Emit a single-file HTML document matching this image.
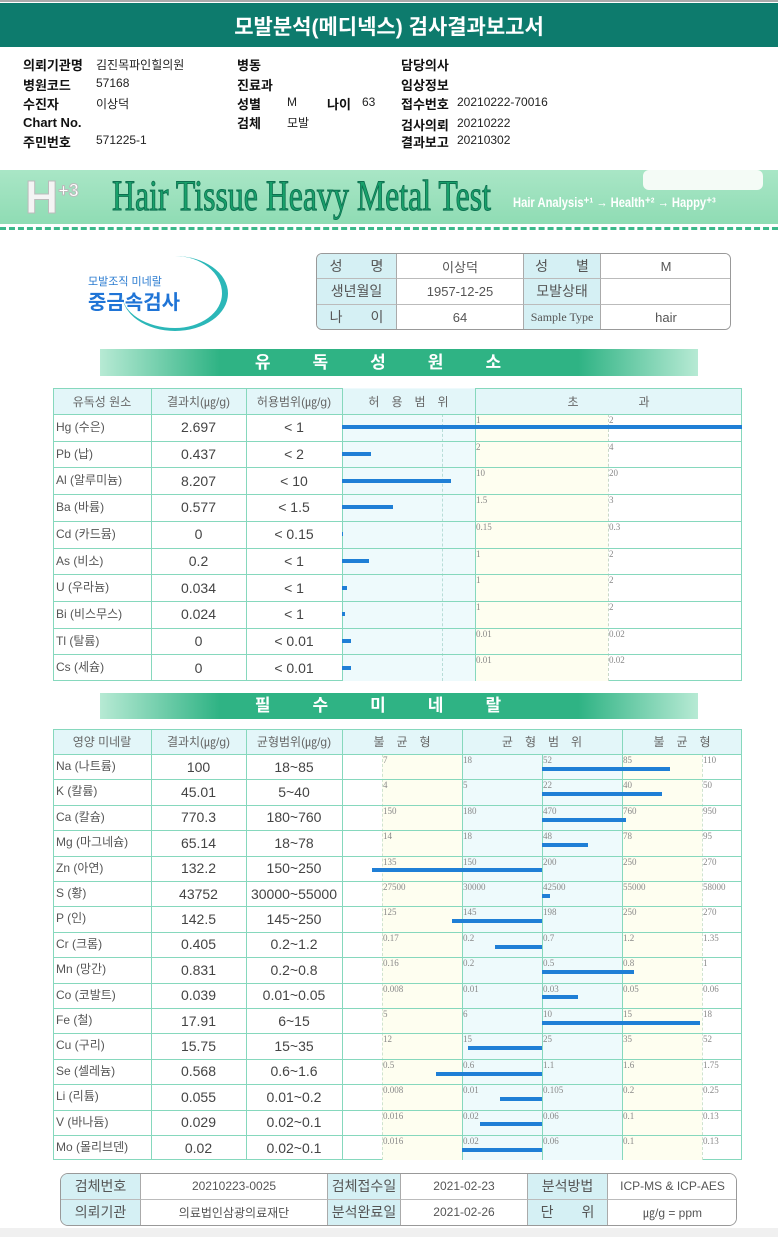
<!DOCTYPE html>
<html><head><meta charset="utf-8">
<style>
body{margin:0;width:778px;height:1237px;position:relative;background:#fff;font-family:"Liberation Sans","Noto Sans CJK KR",sans-serif;overflow:hidden}
.a{position:absolute}
.lbl{font-weight:bold;font-size:13px;color:#111}
.val{font-size:12px;color:#222}
.cell{position:absolute;box-sizing:border-box;display:flex;align-items:center;justify-content:center;color:#444;font-size:14px}
.tk{position:absolute;font-family:"Liberation Serif",serif;font-size:9px;color:#888}
</style></head><body>
<div class="a" style="left:0;top:0;width:778px;height:2px;background:#aaa"></div>
<div class="a" style="left:0;top:3px;width:778px;height:44px;background:#0d7b6d;color:#fff;font-size:21px;font-weight:bold;text-align:center;line-height:50px">모발분석(메디넥스) 검사결과보고서</div>

<div id="info"></div>

<div class="a" style="left:0;top:170px;width:778px;height:54px;background:linear-gradient(#a9e6c6,#8fdcb4)">
 <div class="a" style="left:25px;top:0;font-family:'Liberation Sans',sans-serif;font-size:46px;font-weight:bold;color:#f4f4f4;-webkit-text-stroke:1px #bbb">H<sup style="font-size:18px;color:#fff">+3</sup></div>
 <div class="a" style="left:112px;top:2px;font-family:'Liberation Serif',serif;font-size:43px;color:#18a06a;transform:scaleX(0.74);transform-origin:left;white-space:nowrap;-webkit-text-stroke:1px #0d7050">Hair Tissue Heavy Metal Test</div>
 <div class="a" style="left:513px;top:24px;font-size:14px;font-weight:bold;color:#fff;transform:scaleX(0.8);transform-origin:left;white-space:nowrap">Hair Analysis⁺¹ → Health⁺² → Happy⁺³</div>
 <div class="a" style="left:643px;top:0;width:120px;height:20px;background:#f4fbf6;border-radius:6px"></div>
</div>
<div class="a" style="left:0;top:227px;width:778px;border-top:3px dashed #3cb88a"></div>

<div class="a" style="left:60px;top:248px;width:180px;height:85px">
 <div class="a" style="left:62px;top:8px;width:100px;height:72px;border-radius:50%;border-right:6px solid #2bb7b8;border-bottom:3px solid #2bb7b8"></div>
 <div class="a" style="left:28px;top:25px;font-size:11px;color:#2a7bd0">모발조직 미네랄</div>
 <div class="a" style="left:28px;top:38px;font-size:20px;font-weight:bold;color:#1f74d6">중금속검사</div>
</div>

<div class="a" style="left:316px;top:253px;width:415px;height:77px;border:1px solid #999;border-radius:6px;overflow:hidden;box-sizing:border-box">
 <div id="pt"></div>
</div>

<div class="a" style="left:100px;top:349px;width:598px;height:27px;background:linear-gradient(90deg,#b7ead4,#2fb384 20%,#2fb384 80%,#b7ead4);color:#fff;font-size:17px;font-weight:bold;text-align:center;line-height:27px;letter-spacing:42px">유독성원소</div>
<div class="a" style="left:100px;top:693px;width:598px;height:26px;background:linear-gradient(90deg,#b7ead4,#2fb384 20%,#2fb384 80%,#b7ead4);color:#fff;font-size:17px;font-weight:bold;text-align:center;line-height:26px;letter-spacing:42px">필수미네랄</div>

<div id="tox"></div>
<div id="min"></div>

<div class="a" style="left:60px;top:1173px;width:677px;height:53px;border:1px solid #999;border-radius:8px;overflow:hidden;box-sizing:border-box"><div id="ft"></div></div>
<div class="a" style="left:0;top:1228px;width:778px;height:9px;background:#f0f0f0"></div>

<script>
// ---- toxic data ----
const toxNames=["Hg (수은)","Pb (납)","Al (알루미늄)","Ba (바륨)","Cd (카드뮴)","As (비소)","U (우라늄)","Bi (비스무스)","Tl (탈륨)","Cs (세슘)"];
const toxValues=[2.697,0.437,8.207,0.577,0,0.2,0.034,0.024,0,0];
const toxLimits=[1,2,10,1.5,0.15,1,1,1,0.01,0.01];
const toxRangeLabels=["< 1","< 2","< 10","< 1.5","< 0.15","< 1","< 1","< 1","< 0.01","< 0.01"];
const toxTick1=["1","2","10","1.5","0.15","1","1","1","0.01","0.01"];
const toxTick2=["2","4","20","3","0.3","2","2","2","0.02","0.02"];
// ---- mineral data ----
const minNames=["Na (나트륨)","K (칼륨)","Ca (칼슘)","Mg (마그네슘)","Zn (아연)","S (황)","P (인)","Cr (크롬)","Mn (망간)","Co (코발트)","Fe (철)","Cu (구리)","Se (셀레늄)","Li (리튬)","V (바나듐)","Mo (몰리브덴)"];
const minValues=[100,45.01,770.3,65.14,132.2,43752,142.5,0.405,0.831,0.039,17.91,15.75,0.568,0.055,0.029,0.02];
const minRangeLabels=["18~85","5~40","180~760","18~78","150~250","30000~55000","145~250","0.2~1.2","0.2~0.8","0.01~0.05","6~15","15~35","0.6~1.6","0.01~0.2","0.02~0.1","0.02~0.1"];
const minTicks=[[7,18,52,85,110],[4,5,22,40,50],[150,180,470,760,950],[14,18,48,78,95],[135,150,200,250,270],[27500,30000,42500,55000,58000],[125,145,198,250,270],[0.17,0.2,0.7,1.2,1.35],[0.16,0.2,0.5,0.8,1],[0.008,0.01,0.03,0.05,0.06],[5,6,10,15,18],[12,15,25,35,52],[0.5,0.6,1.1,1.6,1.75],[0.008,0.01,0.105,0.2,0.25],[0.016,0.02,0.06,0.1,0.13],[0.016,0.02,0.06,0.1,0.13]];

function mk(parent,css,txt,cls){const d=document.createElement('div');d.className=cls||'a';d.style.cssText=css;if(txt!==undefined)d.textContent=txt;parent.appendChild(d);return d;}
const B='#86d8bd';

// info section
const info=document.getElementById('info');
const infoItems=[["의뢰기관명","김진목파인힐의원",23,63,73],["병원코드","57168",23,83,73],["수진자","이상덕",23,102,73],["Chart No.","",23,123,73],["주민번호","571225-1",23,140,73],
["병동","",237,63,50],["진료과","",237,83,50],["성별","M",237,102,50],["검체","모발",237,121,50],["나이","63",327,102,35],
["담당의사","",401,63,56],["임상정보","",401,83,56],["접수번호","20210222-70016",401,102,56],["검사의뢰","20210222",401,123,56],["결과보고","20210302",401,140,56]];
infoItems.forEach(it=>{
 const l=mk(info,`left:${it[2]}px;top:${it[3]-8}px`,it[0],'a lbl');
 
 
 if(it[1]){
  const v=mk(info,`left:${it[2]+it[4]}px;top:${it[3]-7}px`,it[1],'a val');
  
  }
});

// patient table
const pt=document.getElementById('pt');
const ptCols=[[0,80,true],[80,127,false],[207,77,true],[284,131,false]];
const ptData=[["성　　명","이상덕","성　　별","M"],["생년월일","1957-12-25","모발상태",""],["나　　이","64","Sample Type","hair"]];
ptData.forEach((r,i)=>r.forEach((t,j)=>{
 const c=ptCols[j];
 const e=mk(pt,`left:${c[0]}px;top:${i*25.3}px;width:${c[1]}px;height:25.3px;border-right:1px solid #aaa;border-bottom:${i<2?1:0}px solid #bbb;background:${c[2]?'#d5f0f4':'#fff'};font-size:${c[2]?(t==='Sample Type'?12:14):13}px;font-family:${t==='Sample Type'?'Liberation Serif,serif':'inherit'};color:#555`,t,'cell');
 
 
}));

// toxic table
const tox=document.getElementById('tox');
const TX0=53,TX1=742,TH=388,THH=26,TRH=26.7;
const tCols=[53,151,246,342,475,742];
const tHead=["유독성 원소","결과치(㎍/g)","허용범위(㎍/g)","허　용　범　위","초　　　　　과"];
mk(tox,`left:${TX0}px;top:${TH}px;width:${TX1-TX0}px;height:${THH+TRH*10}px;border:1px solid ${B};box-sizing:border-box`);
mk(tox,`left:342px;top:${TH}px;width:133px;height:${THH+TRH*10}px;background:#eefafc`);
mk(tox,`left:475px;top:${TH+THH}px;width:133px;height:${TRH*10}px;background:#fefef0`);
mk(tox,`left:${TX0+1}px;top:${TH+1}px;width:${TX1-TX0-2}px;height:${THH-1}px;background:#e3f6f9`);
tHead.forEach((h,j)=>{const e=mk(tox,`left:${tCols[j]}px;top:${TH}px;width:${tCols[j+1]-tCols[j]}px;height:${THH}px;font-size:12px;color:#666`,h,'cell');
 
 });
tCols.slice(1,5).forEach(x=>mk(tox,`left:${x}px;top:${TH}px;width:1px;height:${THH+TRH*10}px;background:${B}`));
mk(tox,`left:442px;top:${TH+THH}px;height:${TRH*10}px;border-left:1px dashed #b8ddd8`);
mk(tox,`left:608px;top:${TH+THH}px;height:${TRH*10}px;border-left:1px dashed #c8d8c8`);
function toxX(v,lim){const r=v/lim; if(r>2) return 742; return 342+r*133;}
toxNames.forEach((n,i)=>{
 const y=TH+THH+i*TRH;
 mk(tox,`left:53px;top:${y}px;width:689px;height:1px;background:${B}`);
 const a=mk(tox,`left:56px;top:${y}px;height:${TRH}px;line-height:${TRH}px;font-size:12px;color:#555`,n);
 
 
 const b=mk(tox,`left:151px;top:${y}px;width:95px;height:${TRH}px`,String(toxValues[i]),'cell');
 
 
 const c=mk(tox,`left:246px;top:${y}px;width:96px;height:${TRH}px`,toxRangeLabels[i],'cell');
 
 
 const t1=mk(tox,`left:476px;top:${y+1}px`,toxTick1[i],'tk');
 
 
 const t2=mk(tox,`left:609px;top:${y+1}px`,toxTick2[i],'tk');
 
 
 const w=Math.max(toxValues[i]===0&&toxLimits[i]<0.1?9:1,toxX(toxValues[i],toxLimits[i])-342);
 const bar=mk(tox,`left:342px;top:${y+TRH/2-2}px;width:${w}px;height:4px;background:#1f7fd6`);
 
 
});

// mineral table
const mn=document.getElementById('min');
const MH=729,MHH=25,MRH=25.4,N=minNames.length;
const mCols=[53,151,246,342,462,622,742];
const tickX=[382,462,542,622,702];
const mHead=["영양 미네랄","결과치(㎍/g)","균형범위(㎍/g)","불　균　형","균　형　범　위","불　균　형"];
mk(mn,`left:53px;top:${MH}px;width:689px;height:${MHH+MRH*N}px;border:1px solid ${B};box-sizing:border-box`);
mk(mn,`left:382px;top:${MH+MHH}px;width:80px;height:${MRH*N}px;background:#fefef0`);
mk(mn,`left:462px;top:${MH+MHH}px;width:160px;height:${MRH*N}px;background:#eefafc`);
mk(mn,`left:622px;top:${MH+MHH}px;width:80px;height:${MRH*N}px;background:#fefef0`);
mk(mn,`left:54px;top:${MH+1}px;width:687px;height:${MHH-1}px;background:#e3f6f9`);
mHead.forEach((h,j)=>{const e=mk(mn,`left:${mCols[j]}px;top:${MH}px;width:${mCols[j+1]-mCols[j]}px;height:${MHH}px;font-size:12px;color:#666`,h,'cell');
 
 });
[151,246,342,462,622].forEach(x=>mk(mn,`left:${x}px;top:${MH}px;width:1px;height:${MHH+MRH*N}px;background:${B}`));
mk(mn,`left:542px;top:${MH+MHH}px;width:1px;height:${MRH*N}px;background:${B}`);
[382,702].forEach(x=>mk(mn,`left:${x}px;top:${MH+MHH}px;height:${MRH*N}px;border-left:1px dashed #cfe3cf`));
function minX(v,t){
 if(v<=t[0]) return Math.max(372,382-(t[0]-v)/(t[1]-t[0])*80);
 for(let k=0;k<4;k++){if(v<=t[k+1]) return tickX[k]+(v-t[k])/(t[k+1]-t[k])*80;}
 return Math.min(742,702+(v-t[4])/(t[4]-t[3])*80);
}
minNames.forEach((n,i)=>{
 const y=MH+MHH+i*MRH;
 mk(mn,`left:53px;top:${y}px;width:689px;height:1px;background:${B}`);
 const a=mk(mn,`left:56px;top:${y}px;height:${MRH}px;line-height:${MRH}px;font-size:12px;color:#555`,n);
 
 
 const b=mk(mn,`left:151px;top:${y}px;width:95px;height:${MRH}px`,String(minValues[i]),'cell');
 
 
 const c=mk(mn,`left:246px;top:${y}px;width:96px;height:${MRH}px`,minRangeLabels[i],'cell');
 
 
 minTicks[i].forEach((t,k)=>{const e=mk(mn,`left:${tickX[k]+1}px;top:${y+1}px`,String(t),'tk');
  
  });
 const x=minX(minValues[i],minTicks[i]);
 const l=Math.min(x,542),w=Math.max(2,Math.abs(x-542));
 const bar=mk(mn,`left:${l}px;top:${y+MRH/2}px;width:${w}px;height:4px;background:#1f7fd6`);
 
 
});

// footer
const ft=document.getElementById('ft');
const fCols=[[0,80,true],[80,187,false],[267,73,true],[340,127,false],[467,80,true],[547,130,false]];
const fData=[["검체번호","20210223-0025","검체접수일","2021-02-23","분석방법","ICP-MS & ICP-AES"],["의뢰기관","의료법인삼광의료재단","분석완료일","2021-02-26","단　　위","㎍/g = ppm"]];
fData.forEach((r,i)=>r.forEach((t,j)=>{const c=fCols[j];
 const e=mk(ft,`left:${c[0]}px;top:${i*25.5}px;width:${c[1]}px;height:25.5px;border-right:1px solid #aaa;border-bottom:${i?0:1}px solid #bbb;background:${c[2]?'#d5f0f4':'#fff'};font-size:${c[2]?14:12}px;color:#555`,t,'cell');
 
 
}));
</script>
</body></html>
